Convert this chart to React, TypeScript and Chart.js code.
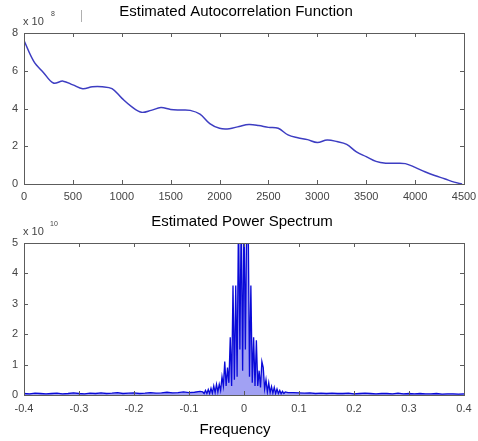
import React, { useEffect, useRef } from "react";
import { Chart, registerables } from "chart.js";
Chart.register(...registerables);

// ---- Autocorrelation (values in units of 1e8) ----
const acfLag = [0, 100, 200, 300, 400, 500, 600, 700, 800, 900, 1000, 1100, 1200, 1300, 1400, 1500, 1600, 1700, 1800, 1900, 2000, 2100, 2200, 2300, 2400, 2500, 2600, 2700, 2800, 2900, 3000, 3100, 3200, 3300, 3400, 3500, 3600, 3700, 3800, 3900, 4000, 4100, 4200, 4300, 4400, 4480];
const acfValue = [7.6, 6.5, 5.9, 5.35, 5.45, 5.25, 5.05, 5.15, 5.15, 5.05, 4.55, 4.1, 3.8, 3.9, 4.05, 3.95, 3.92, 3.9, 3.7, 3.2, 2.95, 2.93, 3.05, 3.15, 3.1, 3.0, 2.95, 2.6, 2.45, 2.35, 2.2, 2.33, 2.25, 2.1, 1.7, 1.45, 1.2, 1.1, 1.1, 1.08, 0.88, 0.65, 0.45, 0.28, 0.1, 0.0];

// ---- Power spectrum (values in units of 1e10) ----
const specFreqLeft = [-0.4, -0.39, -0.38, -0.37, -0.36, -0.35, -0.34, -0.33, -0.32, -0.31, -0.3, -0.29, -0.28, -0.27, -0.26, -0.25, -0.24, -0.23, -0.22, -0.21, -0.2, -0.19, -0.18, -0.17, -0.16, -0.15, -0.14, -0.13, -0.12, -0.11, -0.1, -0.09, -0.08];
const specPowerLeft = [0.05, 0.04, 0.06, 0.05, 0.04, 0.05, 0.06, 0.04, 0.05, 0.07, 0.05, 0.04, 0.06, 0.05, 0.07, 0.05, 0.06, 0.08, 0.05, 0.06, 0.07, 0.05, 0.06, 0.08, 0.06, 0.07, 0.09, 0.07, 0.08, 0.1, 0.08, 0.09, 0.12];
const specFreqCenter = [-0.075, -0.0725, -0.07, -0.0675, -0.065, -0.0625, -0.06, -0.0575, -0.055, -0.0525, -0.05, -0.0475, -0.045, -0.0425, -0.04, -0.0375, -0.035, -0.0325, -0.03, -0.0275, -0.025, -0.0225, -0.02, -0.0175, -0.015, -0.0125, -0.01, -0.0075, -0.005, -0.0025, 0, 0.0025, 0.005, 0.0075, 0.01, 0.0125, 0.015, 0.0175, 0.02, 0.0225, 0.025, 0.0275, 0.03, 0.0325, 0.035, 0.0375, 0.04, 0.0425, 0.045, 0.0475, 0.05, 0.0525, 0.055, 0.0575, 0.06, 0.0625, 0.065, 0.0675, 0.07, 0.0725, 0.075];
const specPowerCenter = [0.1, 0.05, 0.15, 0.05, 0.18, 0.05, 0.22, 0.06, 0.3, 0.08, 0.35, 0.1, 0.35, 0.15, 0.6, 0.3, 1.1, 0.3, 0.9, 0.4, 1.9, 0.3, 3.6, 0.5, 3.6, 0.6, 6, 1.5, 6, 0.8, 6, 1.5, 6, 6, 0.6, 3.6, 0.4, 1.9, 0.3, 1.8, 0.3, 0.8, 0.25, 1.1, 0.9, 0.2, 0.5, 0.1, 0.4, 0.08, 0.28, 0.06, 0.25, 0.05, 0.2, 0.05, 0.15, 0.04, 0.12, 0.05, 0.1];
const specFreqRight = [0.08, 0.09, 0.1, 0.11, 0.12, 0.13, 0.14, 0.15, 0.16, 0.17, 0.18, 0.19, 0.2, 0.21, 0.22, 0.23, 0.24, 0.25, 0.26, 0.27, 0.28, 0.29, 0.3, 0.31, 0.32, 0.33, 0.34, 0.35, 0.36, 0.37, 0.38, 0.39, 0.4];
const specPowerRight = [0.08, 0.08, 0.07, 0.06, 0.07, 0.05, 0.06, 0.05, 0.06, 0.05, 0.05, 0.06, 0.04, 0.05, 0.06, 0.05, 0.04, 0.05, 0.05, 0.04, 0.06, 0.04, 0.05, 0.04, 0.05, 0.04, 0.04, 0.05, 0.03, 0.04, 0.04, 0.03, 0.04];

const topTitle = "Estimated Autocorrelation Function";
const bottomTitle = "Estimated Power Spectrum";
const bottomXLabel = "Frequency";

const TICK_FONT = { family: "Arial, 'Liberation Sans', sans-serif", size: 11 };
const TEXT_FAMILY = "Arial, 'Liberation Sans', sans-serif";

type TextItem = { text: string; x: number; y: number; size: number; align?: CanvasTextAlign; color?: string };

const matlabFrame = {
  id: "matlabFrame",
  afterDatasetsDraw(chart: any, _args: any, opts: any) {
    const { ctx, chartArea: a, scales } = chart;
    ctx.save();
    ctx.strokeStyle = "#5c5c5c";
    ctx.lineWidth = 1;
    ctx.strokeRect(a.left + 0.5, a.top + 0.5, a.right - a.left, a.bottom - a.top);
    const tl = 4;
    ctx.beginPath();
    for (const t of scales.x.ticks) {
      const px = Math.round(scales.x.getPixelForValue(t.value)) + 0.5;
      ctx.moveTo(px, a.bottom);
      ctx.lineTo(px, a.bottom - tl);
      ctx.moveTo(px, a.top);
      ctx.lineTo(px, a.top + tl);
    }
    for (const t of scales.y.ticks) {
      const py = Math.round(scales.y.getPixelForValue(t.value)) + 0.5;
      ctx.moveTo(a.left, py);
      ctx.lineTo(a.left + tl, py);
      ctx.moveTo(a.right, py);
      ctx.lineTo(a.right - tl, py);
    }
    ctx.stroke();
    const texts: TextItem[] = (opts && opts.texts) || [];
    ctx.textBaseline = "middle";
    for (const t of texts) {
      ctx.font = `${t.size}px ${TEXT_FAMILY}`;
      ctx.fillStyle = t.color || "#000";
      ctx.textAlign = t.align || "center";
      ctx.fillText(t.text, t.x, t.y);
    }
    if (opts && opts.marks) {
      ctx.strokeStyle = "#b0b0b0";
      ctx.beginPath();
      for (const m of opts.marks) {
        ctx.moveTo(m[0] + 0.5, m[1]);
        ctx.lineTo(m[0] + 0.5, m[2]);
      }
      ctx.stroke();
    }
    ctx.restore();
  },
};

const fmt = (v: any) => String(Number(Number(v).toFixed(3)));
const GRID = { display: false, drawTicks: false, tickLength: 0 };

function TopChart() {
  const ref = useRef<HTMLCanvasElement>(null);
  useEffect(() => {
    const chart = new Chart(ref.current!, {
      type: "line",
      data: {
        datasets: [
          {
            data: acfLag.map((x, i) => ({ x, y: acfValue[i] })),
            borderColor: "#3d3dc2",
            borderWidth: 1.5,
            pointRadius: 0,
            tension: 0.35,
            fill: false,
          },
        ],
      },
      options: {
        animation: false,
        responsive: false,
        devicePixelRatio: 1,
        layout: { padding: { top: 33, right: 14, bottom: 0, left: 0 } },
        plugins: {
          legend: { display: false },
          tooltip: { enabled: false },
          matlabFrame: {
            texts: [
              { text: topTitle, x: 236, y: 12, size: 15 },
              { text: "x 10", x: 23, y: 22, size: 11, align: "left", color: "#444" },
              { text: "8", x: 51, y: 14, size: 7, align: "left", color: "#444" },
            ],
            marks: [[81, 10, 22]],
          },
        } as any,
        scales: {
          x: {
            type: "linear",
            min: 0,
            max: 4500,
            grid: GRID,
            border: { display: false },
            ticks: { stepSize: 500, font: TICK_FONT, color: "#444", padding: 6, maxRotation: 0, callback: fmt },
            afterFit: (s: any) => { s.height = 21; s.paddingLeft = 0; s.paddingRight = 0; },
          },
          y: {
            min: 0,
            max: 8,
            grid: GRID,
            border: { display: false },
            ticks: { stepSize: 2, font: TICK_FONT, color: "#444", padding: 6, callback: fmt },
            afterFit: (s: any) => { s.width = 24; s.paddingTop = 0; s.paddingBottom = 0; },
          },
        },
      },
      plugins: [matlabFrame],
    });
    return () => chart.destroy();
  }, []);
  return <canvas ref={ref} width={478} height={205} style={{ position: "absolute", left: 0, top: 0, width: 478, height: 205 }} />;
}

function BottomChart() {
  const ref = useRef<HTMLCanvasElement>(null);
  useEffect(() => {
    const freqs = [...specFreqLeft, ...specFreqCenter, ...specFreqRight];
    const powers = [...specPowerLeft, ...specPowerCenter, ...specPowerRight];
    const chart = new Chart(ref.current!, {
      type: "line",
      data: {
        datasets: [
          {
            data: freqs.map((x, i) => ({ x, y: powers[i] })),
            borderColor: "#0a0ad8",
            backgroundColor: "rgba(20,20,225,0.4)",
            borderWidth: 1.3,
            pointRadius: 0,
            tension: 0,
            fill: "origin",
          },
        ],
      },
      options: {
        animation: false,
        responsive: false,
        devicePixelRatio: 1,
        layout: { padding: { top: 38, right: 14, bottom: 0, left: 0 } },
        plugins: {
          legend: { display: false },
          tooltip: { enabled: false },
          filler: { propagate: false },
          matlabFrame: {
            texts: [
              { text: bottomTitle, x: 242, y: 17, size: 15 },
              { text: bottomXLabel, x: 235, y: 225, size: 15 },
              { text: "x 10", x: 23, y: 27, size: 11, align: "left", color: "#444" },
              { text: "10", x: 50, y: 19, size: 7, align: "left", color: "#444" },
            ],
          },
        } as any,
        scales: {
          x: {
            type: "linear",
            min: -0.4,
            max: 0.4,
            grid: GRID,
            border: { display: false },
            ticks: { stepSize: 0.1, font: TICK_FONT, color: "#444", padding: 7, maxRotation: 0, callback: fmt },
            afterFit: (s: any) => { s.height = 46; s.paddingLeft = 0; s.paddingRight = 0; },
          },
          y: {
            min: 0,
            max: 5,
            grid: GRID,
            border: { display: false },
            ticks: { stepSize: 1, font: TICK_FONT, color: "#444", padding: 6, callback: fmt },
            afterFit: (s: any) => { s.width = 24; s.paddingTop = 0; s.paddingBottom = 0; },
          },
        },
      },
      plugins: [matlabFrame],
    });
    return () => chart.destroy();
  }, []);
  return <canvas ref={ref} width={478} height={236} style={{ position: "absolute", left: 0, top: 205, width: 478, height: 236 }} />;
}

export default function App() {
  return (
    <div style={{ position: "fixed", left: 0, top: 0, width: 478, height: 441, background: "#fff", overflow: "hidden" }}>
      <TopChart />
      <BottomChart />
    </div>
  );
}
